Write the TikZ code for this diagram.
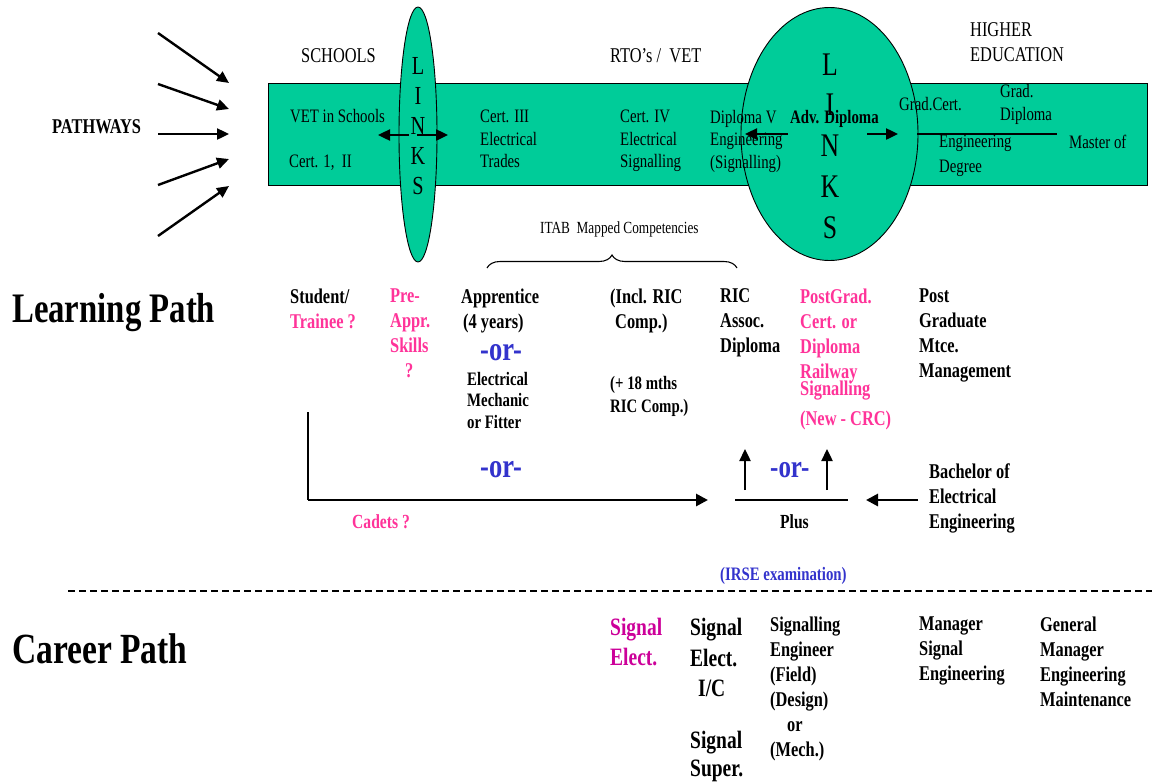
\documentclass[tikz,border=0pt]{standalone}
\usepackage{fontspec}
\setmainfont{Liberation Serif}[FakeStretch=0.78]
\usetikzlibrary{shapes.geometric,arrows.meta,decorations.pathreplacing}
\definecolor{bandgreen}{RGB}{0,204,153}
\definecolor{pinkc}{RGB}{255,51,153}
\definecolor{magc}{RGB}{204,0,153}
\definecolor{bluec}{RGB}{51,51,204}
\newcommand{\fsz}[2]{\fontsize{#1}{#2}\selectfont}
\tikzset{
  bandbox/.style={draw=black, line width=1pt, fill=bandgreen},
  linkell/.style={draw=black, line width=0.9pt, fill=bandgreen, ellipse, inner sep=0pt},
  bl/.style={anchor=base west, inner sep=0pt},
  ml/.style={anchor=north west, inner sep=0pt, align=left},
  bandtxt/.style={font=\fsz{19}{22.5}},
  toptxt/.style={font=\fsz{21}{25}},
  coltxt/.style={font=\bfseries\fsz{21}{25}},
  ortxt/.style={font=\bfseries\fsz{34}{34}, text=bluec},
  bigarrow/.style={line width=2.8pt, -{Triangle[length=12pt,width=12pt]}},
  midarrow/.style={line width=2.4pt, -{Triangle[length=12pt,width=11pt]}},
  thinline/.style={line width=1.2pt},
}
\begin{document}
\begin{tikzpicture}[x=1pt,y=-1pt]
\useasboundingbox (0,0) rectangle (1152,782);
% band and link ellipses
\node[bandbox, anchor=north west, minimum width=879pt, minimum height=102pt, inner sep=0pt] (band) at (268,83) {};
\node[linkell, minimum width=38pt, minimum height=255pt] (ellL) at (418,134.5) {};
\node[linkell, minimum width=177pt, minimum height=253pt] (ellB) at (829.5,134) {};
\node[anchor=north, inner sep=0pt, align=center, font=\fsz{26}{30.2}] (linksL) at (418,56.8) {L\\I\\N\\K\\S};
\node[anchor=north, inner sep=0pt, align=center, font=\fsz{33}{40.75}] (linksB) at (830,53.2) {L\\I\\N\\K\\S};
% headings above band
\node[bl, toptxt] (schools) at (301,62) {SCHOOLS};
\node[bl, toptxt] (rto) at (610,62) {RTO’s /\ \ VET};
\node[ml, toptxt] (higher) at (970,22.7) {HIGHER\\EDUCATION};
% band texts
\node[bl, bandtxt] (vet) at (290,122) {VET in Schools};
\node[bl, bandtxt] (cert12) at (289,167) {Cert. 1,\ \ II};
\node[ml, bandtxt] (cert3) at (480,110.1) {Cert. III\\Electrical\\Trades};
\node[ml, bandtxt] (cert4) at (620,110.1) {Cert. IV\\Electrical\\Signalling};
\node[ml, bandtxt] (dip5) at (710,110.1) {Diploma V\\Engineering\\(Signalling)};
\node[bl, bandtxt, font=\bfseries\fsz{19}{22}] (adv) at (790,123) {Adv. Diploma};
\node[bl, bandtxt] (gradcert) at (899,110) {Grad.Cert.};
\node[ml, bandtxt, font=\fsz{19}{23}] (graddip) at (1000,84.1) {Grad.\\Diploma};
\node[ml, bandtxt, font=\fsz{19}{25}] (engdeg) at (939,135.1) {Engineering\\Degree};
\node[bl, bandtxt] (master) at (1069,148) {Master of};
\coordinate (hlL) at (917,134);
\coordinate (hlR) at (1057,134);
\draw[thinline] (hlL) -- (hlR);
% link arrows
\coordinate (laL0) at (409,135); \coordinate (laL1) at (378,135);
\coordinate (laR0) at (417,135); \coordinate (laR1) at (448,135);
\draw[midarrow] (laL0) -- (laL1);
\draw[midarrow] (laR0) -- (laR1);
\coordinate (baL0) at (788,134); \coordinate (baL1) at (745,134);
\coordinate (baR0) at (867,134); \coordinate (baR1) at (898,134);
\draw[midarrow] (baL0) -- (baL1);
\draw[midarrow] (baR0) -- (baR1);
% pathways
\node[bl, font=\bfseries\fsz{21}{25}] (pathways) at (52,133) {PATHWAYS};
\coordinate (p1) at (158,33);  \coordinate (q1) at (229,83);
\coordinate (p2) at (158,84);  \coordinate (q2) at (229,109);
\coordinate (p3) at (158,134); \coordinate (q3) at (229,134);
\coordinate (p4) at (158,185); \coordinate (q4) at (229,159);
\coordinate (p5) at (158,236); \coordinate (q5) at (229,186);
\foreach \i in {1,...,5} \draw[midarrow] (p\i) -- (q\i);
% brace
\node[bl, font=\fsz{17}{20}] (itab) at (540,233) {ITAB\ \ Mapped Competencies};
\coordinate (brL) at (487,268); \coordinate (brR) at (737,268);
\draw[line width=1.1pt, decorate, decoration={brace, amplitude=13pt}] (brL) -- (brR);
% headings
\node[bl, font=\bfseries\fsz{42}{46}] (learn) at (12,322) {Learning Path};
\node[bl, font=\bfseries\fsz{43}{46}] (career) at (12,663) {Career Path};
% learning path columns
\node[ml, coltxt] (student) at (290,288.7) {Student/\\\textcolor{pinkc}{Trainee ?}};
\node[ml, coltxt, text=pinkc] (preappr) at (390,288.7) {Pre-\\Appr.\\Skills\\\hspace*{15pt}?};
\node[ml, coltxt] (appr) at (461,288.7) {Apprentice\\\hspace*{2pt}(4 years)};
\node[bl, ortxt] (or1) at (480,360) {-or-};
\node[ml, font=\bfseries\fsz{19}{21.5}] (elmech) at (467,372.1) {Electrical\\Mechanic\\or Fitter};
\node[ml, coltxt] (incl) at (610,288.7) {(Incl. RIC\\\hspace*{5pt}Comp.)};
\node[ml, font=\bfseries\fsz{19}{23}] (plus18) at (610,376.1) {(+ 18 mths\\RIC Comp.)};
\node[ml, coltxt] (ric) at (720,288.7) {RIC\\Assoc.\\Diploma};
\node[ml, coltxt, text=pinkc] (postgrad) at (800,288.7) {PostGrad.\\Cert. or\\Diploma\\Railway\\[-8pt]Signalling};
\node[bl, coltxt, text=pinkc] (newcrc) at (800,425) {(New - CRC)};
\node[ml, coltxt] (postmtce) at (919,288.7) {Post\\Graduate\\Mtce.\\Management};
% lower connectors
\node[bl, ortxt] (or2) at (480,477) {-or-};
\node[bl, ortxt, font=\bfseries\fsz{32}{32}] (or3) at (770,477) {-or-};
\coordinate (cadTop) at (308,412);
\coordinate (cadCorner) at (308,500);
\coordinate (cadEnd) at (708,500);
\draw[thinline] (cadTop) -- (cadCorner);
\draw[bigarrow] (cadCorner) -- (cadEnd);
\node[bl, coltxt, font=\bfseries\fsz{20}{24}, text=pinkc] (cadets) at (352,528) {Cadets ?};
\coordinate (plL) at (735,500); \coordinate (plR) at (848,500);
\draw[line width=1.5pt] (plL) -- (plR);
\coordinate (up1a) at (745,490); \coordinate (up1b) at (745,449);
\coordinate (up2a) at (827,490); \coordinate (up2b) at (827,449);
\draw[midarrow] (up1a) -- (up1b);
\draw[midarrow] (up2a) -- (up2b);
\node[bl, font=\bfseries\fsz{20}{24}] (plus) at (780,528) {Plus};
\coordinate (baA) at (918,500); \coordinate (baB) at (866,500);
\draw[bigarrow] (baA) -- (baB);
\node[ml, coltxt] (bach) at (929,463.7) {Bachelor of\\Electrical\\Engineering};
\node[bl, font=\bfseries\fsz{19}{22}, text=bluec] (irse) at (720,580) {(IRSE examination)};
% divider
\coordinate (dashL) at (68,591); \coordinate (dashR) at (1152,591);
\draw[line width=2pt, dash pattern=on 7pt off 4pt] (dashL) -- (dashR);
% career path columns
\node[ml, font=\bfseries\fsz{25}{30}, text=magc] (sigelect) at (610,618) {Signal\\Elect.};
\node[ml, font=\bfseries\fsz{25}{30.5}] (sigic) at (690,618) {Signal\\Elect.\\\hspace*{8pt}I/C};
\node[ml, font=\bfseries\fsz{25}{28}] (sigsup) at (690,731) {Signal\\Super.};
\node[ml, coltxt] (sigeng) at (770,616.7) {Signalling\\Engineer\\(Field)\\(Design)\\\hspace*{17pt}or\\(Mech.)};
\node[ml, coltxt] (mgr) at (919,616.7) {Manager\\Signal\\Engineering};
\node[ml, coltxt] (gm) at (1040,616.7) {General\\Manager\\Engineering\\Maintenance};
\end{tikzpicture}
\end{document}
